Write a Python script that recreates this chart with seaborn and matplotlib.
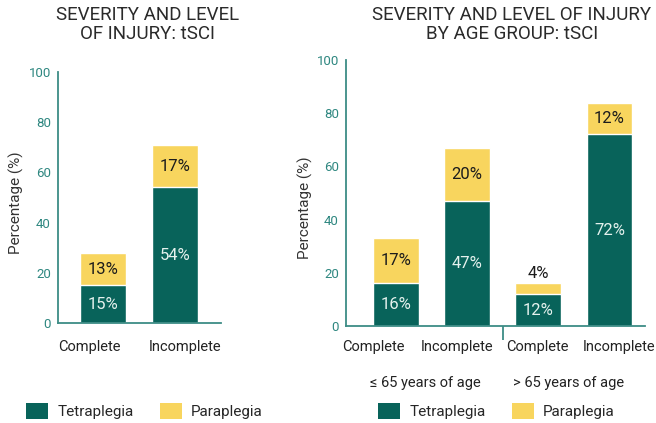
import matplotlib
matplotlib.use("Agg")
import matplotlib.pyplot as plt
from matplotlib.patches import Patch
import seaborn as sns
import pandas as pd

# ---- data ----
severity = ["Complete", "Incomplete"]
tetra_all = [15, 54]
para_all = [13, 17]

age_groups = ["≤ 65 years of age", "≤ 65 years of age", "> 65 years of age", "> 65 years of age"]
age_severity = ["Complete", "Incomplete", "Complete", "Incomplete"]
tetra_age = [16, 47, 12, 72]
para_age = [17, 20, 4, 12]

GREEN = "#08635a"
YELLOW = "#f8d55e"
AXC = "#3d8c86"
TICKC = "#2e8780"

sns.set_style("white")
plt.rcParams["font.family"] = ["Roboto", "DejaVu Sans"]

fig = plt.figure(figsize=(6.56, 4.23), dpi=100)
axL = fig.add_axes([58/656, 1-323/423, 163/656, 251/423])
axR = fig.add_axes([346/656, 1-326/423, 299/656, 266/423])

dfL = pd.DataFrame({"sev": severity, "tetra": tetra_all, "para": para_all})
dfL["total"] = dfL["tetra"] + dfL["para"]
keys = [f"{g}|{s}" for g, s in zip(age_groups, age_severity)]
dfR = pd.DataFrame({"key": keys, "sev": age_severity, "tetra": tetra_age, "para": para_age})
dfR["total"] = dfR["tetra"] + dfR["para"]

def draw(ax, df, xcol, xlim, label_pos, xpad):
    sns.barplot(data=df, x=xcol, y="total", color=YELLOW, saturation=1, width=0.64, ax=ax)
    sns.barplot(data=df, x=xcol, y="tetra", color=GREEN, saturation=1, width=0.64, ax=ax)
    ax.set_xlim(*xlim)
    ax.set_ylim(0, 100)
    ax.set_xlabel("")
    ax.set_ylabel("")
    for s in ["top", "right"]:
        ax.spines[s].set_visible(False)
    for s in ["left", "bottom"]:
        ax.spines[s].set_color(AXC)
        ax.spines[s].set_linewidth(1.3)
    ax.set_yticks([0, 20, 40, 60, 80, 100])
    ax.tick_params(axis="y", direction="in", length=7, width=1.3, color=AXC,
                   labelcolor=TICKC, labelsize=9.5, pad=5)
    ax.set_xticks(label_pos)
    ax.set_xticklabels(df["sev"])
    ax.tick_params(axis="x", length=0, labelsize=10.5, pad=xpad, labelcolor="#222222")
    for i, (t, p) in enumerate(zip(df["tetra"], df["para"])):
        ax.text(i, t/2, f"{t}%", ha="center", va="center", color="#e4f1ed", fontsize=12)
        if p >= 8:
            ax.text(i, t + p/2, f"{p}%", ha="center", va="center", color="#1c1c1c", fontsize=12)
        else:
            ax.text(i, t + p + 3.8, f"{p}%", ha="center", va="center", color="#1c1c1c", fontsize=12)

draw(axL, dfL, "sev", (-0.625, 1.64), [-0.19, 1.14], 12.5)
draw(axR, dfR, "key", (-0.70, 3.5), [-0.32, 0.86, 1.99, 3.13], 10)

# separator ticks
axL.set_xticks([0.5, 1.64], minor=True)
axL.tick_params(axis="x", which="minor", direction="inout", length=10, width=1.3, color=AXC)
axR.set_xticks([0.5, 2.5, 3.5], minor=True)
axR.tick_params(axis="x", which="minor", direction="inout", length=9, width=1.3, color=AXC)
sep = axR.secondary_xaxis("bottom")
sep.set_xticks([1.5])
sep.set_xticklabels([""])
sep.spines["bottom"].set_visible(False)
sep.tick_params(axis="x", direction="out", length=10, width=1.3, color=AXC)

# age group labels
grp = axR.secondary_xaxis("bottom")
grp.set_xticks([0.42, 2.42])
grp.set_xticklabels(["≤ 65 years of age", "> 65 years of age"])
grp.spines["bottom"].set_visible(False)
grp.tick_params(axis="x", length=0, pad=36, labelsize=10.5, labelcolor="#222222")

# y labels
fig.text(16/656, 1-203/423, "Percentage (%)", rotation=90, ha="center", va="center",
         fontsize=11, color="#333333")
fig.text(305/656, 1-208/423, "Percentage (%)", rotation=90, ha="center", va="center",
         fontsize=11, color="#333333")

# titles
fig.text(148/656, 1-6/423, "SEVERITY AND LEVEL\nOF INJURY: tSCI", ha="center", va="top",
         fontsize=13.5, color="#2a2a2a", linespacing=1.1)
fig.text(512/656, 1-6/423, "SEVERITY AND LEVEL OF INJURY\nBY AGE GROUP: tSCI", ha="center", va="top",
         fontsize=13.5, color="#2a2a2a", linespacing=1.1)

handles = [Patch(facecolor=GREEN, edgecolor="none", label="Tetraplegia"),
           Patch(facecolor=YELLOW, edgecolor="none", label="Paraplegia")]
for x0 in (26/656, 378/656):
    fig.legend(handles=handles, loc="center left", bbox_to_anchor=(x0, 1-411/423), ncol=2,
               frameon=False, fontsize=11, handlelength=1.45, handleheight=1.3,
               handletextpad=0.6, columnspacing=1.7, borderpad=0, borderaxespad=0)

fig.savefig("out.png", dpi=100)
